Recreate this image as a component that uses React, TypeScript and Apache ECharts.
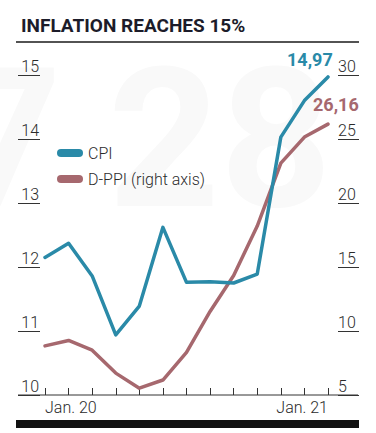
import React, { useEffect, useRef } from 'react';
import * as echarts from 'echarts';

const months = ['Jan. 20', 'Feb. 20', 'Mar. 20', 'Apr. 20', 'May 20', 'Jun. 20', 'Jul. 20', 'Aug. 20', 'Sep. 20', 'Oct. 20', 'Nov. 20', 'Dec. 20', 'Jan. 21'];
const cpi = [12.15, 12.37, 11.86, 10.94, 11.39, 12.62, 11.76, 11.77, 11.75, 11.89, 14.03, 14.6, 14.97];
const dppi = [8.84, 9.26, 8.5, 6.71, 5.53, 6.17, 8.33, 11.53, 14.33, 18.2, 23.11, 25.15, 26.16];
const leftTicks = [10, 11, 12, 13, 14, 15];
const rightTicks = [5, 10, 15, 20, 25, 30];

const FONT = 'Roboto, "Noto Sans", "DejaVu Sans", sans-serif';
const CPI_COLOR = '#2a8aa8';
const PPI_COLOR = '#a6686e';
const TEXT = '#2b2b2b';

const fmt = (v: number) => v.toFixed(2).replace('.', ',');

export default function App() {
  const ref = useRef<HTMLDivElement>(null);
  useEffect(() => {
    if (!ref.current) return;
    const chart = echarts.init(ref.current, null, { renderer: 'svg' });
    const last = months.length - 1;
    chart.setOption({
      animation: false,
      backgroundColor: '#ffffff',
      title: {
        text: 'INFLATION REACHES 15%',
        left: 16,
        top: 11,
        textStyle: { fontFamily: FONT, fontWeight: 'bold', fontSize: 19, color: '#1c1c2a' },
      },
      grid: { left: 45, right: 48, top: 75, bottom: 38 },
      legend: {
        orient: 'vertical',
        left: 52,
        top: 139,
        itemWidth: 26,
        itemHeight: 8,
        itemGap: 8,
        icon: 'path://M4,0 L22,0 A4,4 0 0 1 22,8 L4,8 A4,4 0 0 1 4,0 Z',
        data: ['CPI', 'D-PPI (right axis)'],
        textStyle: { fontFamily: FONT, fontSize: 16, fontWeight: 300, color: TEXT, lineHeight: 18 },
      },
      graphic: [
        {
          type: 'text',
          z: -10,
          left: -50,
          top: 42,
          silent: true,
          style: { text: '7', fontFamily: FONT, fontWeight: 'bold', fontSize: 195, fill: '#f9f9f9' },
        },
        {
          type: 'text',
          z: -10,
          left: 108,
          top: 42,
          silent: true,
          style: { text: '28', fontFamily: FONT, fontWeight: 'bold', fontSize: 195, fill: '#f9f9f9' },
        },
        { type: 'line', shape: { x1: 16, y1: 42, x2: 359, y2: 42 }, style: { stroke: '#1a1a1a', lineWidth: 1.5 } },
        { type: 'line', shape: { x1: 18, y1: 395, x2: 358, y2: 395 }, style: { stroke: '#333', lineWidth: 1 } },
        { type: 'rect', shape: { x: 16, y: 420, width: 343, height: 8 }, style: { fill: '#111' } },
      ],
      xAxis: {
        type: 'category',
        boundaryGap: false,
        data: months.map((m, i) => ({
          value: m,
          textStyle: i === 0 ? { align: 'left' } : i === last ? { align: 'right' } : {},
        })),
        axisLine: { show: false },
        axisTick: { show: true, inside: true, length: 7, interval: 0, lineStyle: { color: '#333', width: 1 } },
        axisLabel: {
          interval: (i: number) => i === 0 || i === last,
          margin: 4,
          fontFamily: FONT,
          fontSize: 16,
          fontWeight: 300,
          color: TEXT,
        },
        splitLine: { show: false },
      },
      yAxis: [
        {
          type: 'value',
          position: 'left',
          min: leftTicks[0],
          max: leftTicks[leftTicks.length - 1],
          interval: leftTicks[1] - leftTicks[0],
          offset: 5,
          axisLine: { show: false },
          axisTick: { show: true, length: 22, lineStyle: { color: '#333', width: 1 } },
          axisLabel: {
            margin: 1,
            align: 'right',
            verticalAlign: 'bottom',
            padding: [0, 0, 1, 0],
            fontFamily: FONT,
            fontSize: 16,
            fontWeight: 300,
            color: TEXT,
          },
          splitLine: { show: false },
        },
        {
          type: 'value',
          position: 'right',
          min: rightTicks[0],
          max: rightTicks[rightTicks.length - 1],
          interval: rightTicks[1] - rightTicks[0],
          offset: 10,
          axisLine: { show: false },
          axisTick: { show: true, length: 21, lineStyle: { color: '#333', width: 1 } },
          axisLabel: {
            margin: 0,
            align: 'left',
            verticalAlign: 'bottom',
            padding: [0, 0, 1, 0],
            fontFamily: FONT,
            fontSize: 16,
            fontWeight: 300,
            color: TEXT,
          },
          splitLine: { show: false },
        },
      ],
      series: [
        {
          name: 'D-PPI (right axis)',
          type: 'line',
          yAxisIndex: 1,
          data: dppi,
          symbol: 'none',
          z: 2,
          lineStyle: { width: 3.5, color: PPI_COLOR, cap: 'round', join: 'round' },
          itemStyle: { color: PPI_COLOR },
          endLabel: {
            show: true,
            formatter: (p: any) => fmt(p.value),
            offset: [-23, -20],
            fontFamily: FONT,
            fontWeight: 'bold',
            fontSize: 18,
            color: PPI_COLOR,
          },
        },
        {
          name: 'CPI',
          type: 'line',
          yAxisIndex: 0,
          data: cpi,
          symbol: 'none',
          z: 3,
          lineStyle: { width: 3.5, color: CPI_COLOR, cap: 'round', join: 'round' },
          itemStyle: { color: CPI_COLOR },
          endLabel: {
            show: true,
            formatter: (p: any) => fmt(p.value),
            offset: [-49, -17],
            fontFamily: FONT,
            fontWeight: 'bold',
            fontSize: 18,
            color: CPI_COLOR,
          },
        },
      ],
    });
    return () => chart.dispose();
  }, []);
  return <div ref={ref} style={{ position: 'absolute', left: 0, top: 0, width: 376, height: 433 }} />;
}
